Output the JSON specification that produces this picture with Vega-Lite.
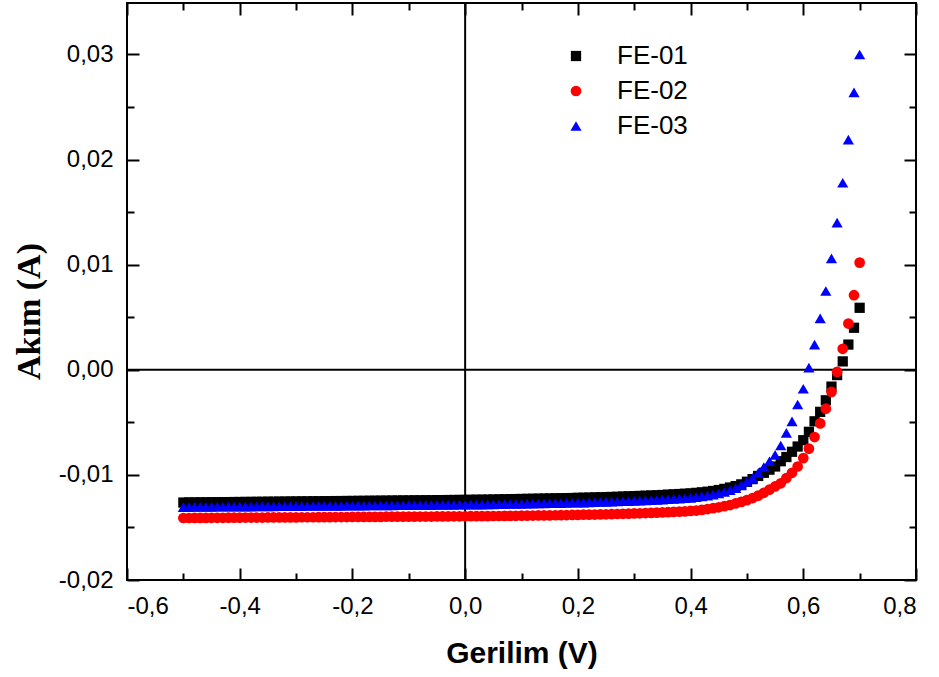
{
  "$schema": "https://vega.github.io/schema/vega-lite/v6.json",
  "width": 789,
  "height": 577,
  "autosize": {"type": "none"},
  "padding": {"left": 127, "top": 3, "right": 23, "bottom": 97},
  "config": {
    "locale": {"number": {"decimal": ",", "thousands": ".", "grouping": [3], "currency": ["", ""], "minus": "-"}},
    "view": {"stroke": "#000000", "strokeWidth": 2},
    "font": "Liberation Sans",
    "axis": {"grid": false, "domain": false, "labelColor": "#000000", "tickColor": "#000000", "titleColor": "#000000", "tickWidth": 2}
  },
  "resolve": {"axis": {"x": "independent", "y": "independent"}},
  "datasets": {
    "iv": [
      {"s":"FE-01","v":-0.50,"i":-0.01263},{"s":"FE-01","v":-0.49,"i":-0.01262},{"s":"FE-01","v":-0.48,"i":-0.01262},{"s":"FE-01","v":-0.47,"i":-0.01261},{"s":"FE-01","v":-0.46,"i":-0.01261},{"s":"FE-01","v":-0.45,"i":-0.01260},{"s":"FE-01","v":-0.44,"i":-0.01260},{"s":"FE-01","v":-0.43,"i":-0.01259},{"s":"FE-01","v":-0.42,"i":-0.01259},{"s":"FE-01","v":-0.41,"i":-0.01258},
      {"s":"FE-01","v":-0.40,"i":-0.01258},{"s":"FE-01","v":-0.39,"i":-0.01257},{"s":"FE-01","v":-0.38,"i":-0.01257},{"s":"FE-01","v":-0.37,"i":-0.01256},{"s":"FE-01","v":-0.36,"i":-0.01256},{"s":"FE-01","v":-0.35,"i":-0.01255},{"s":"FE-01","v":-0.34,"i":-0.01255},{"s":"FE-01","v":-0.33,"i":-0.01254},{"s":"FE-01","v":-0.32,"i":-0.01254},{"s":"FE-01","v":-0.31,"i":-0.01253},
      {"s":"FE-01","v":-0.30,"i":-0.01253},{"s":"FE-01","v":-0.29,"i":-0.01252},{"s":"FE-01","v":-0.28,"i":-0.01252},{"s":"FE-01","v":-0.27,"i":-0.01251},{"s":"FE-01","v":-0.26,"i":-0.01251},{"s":"FE-01","v":-0.25,"i":-0.01250},{"s":"FE-01","v":-0.24,"i":-0.01250},{"s":"FE-01","v":-0.23,"i":-0.01249},{"s":"FE-01","v":-0.22,"i":-0.01249},{"s":"FE-01","v":-0.21,"i":-0.01248},
      {"s":"FE-01","v":-0.20,"i":-0.01248},{"s":"FE-01","v":-0.19,"i":-0.01247},{"s":"FE-01","v":-0.18,"i":-0.01247},{"s":"FE-01","v":-0.17,"i":-0.01246},{"s":"FE-01","v":-0.16,"i":-0.01246},{"s":"FE-01","v":-0.15,"i":-0.01245},{"s":"FE-01","v":-0.14,"i":-0.01245},{"s":"FE-01","v":-0.13,"i":-0.01244},{"s":"FE-01","v":-0.12,"i":-0.01244},{"s":"FE-01","v":-0.11,"i":-0.01243},
      {"s":"FE-01","v":-0.10,"i":-0.01243},{"s":"FE-01","v":-0.09,"i":-0.01242},{"s":"FE-01","v":-0.08,"i":-0.01242},{"s":"FE-01","v":-0.07,"i":-0.01241},{"s":"FE-01","v":-0.06,"i":-0.01241},{"s":"FE-01","v":-0.05,"i":-0.01240},{"s":"FE-01","v":-0.04,"i":-0.01240},{"s":"FE-01","v":-0.03,"i":-0.01239},{"s":"FE-01","v":-0.02,"i":-0.01239},{"s":"FE-01","v":-0.01,"i":-0.01238},
      {"s":"FE-01","v":0.00,"i":-0.01238},{"s":"FE-01","v":0.01,"i":-0.01237},{"s":"FE-01","v":0.02,"i":-0.01236},{"s":"FE-01","v":0.03,"i":-0.01236},{"s":"FE-01","v":0.04,"i":-0.01235},{"s":"FE-01","v":0.05,"i":-0.01234},{"s":"FE-01","v":0.06,"i":-0.01233},{"s":"FE-01","v":0.07,"i":-0.01232},{"s":"FE-01","v":0.08,"i":-0.01231},{"s":"FE-01","v":0.09,"i":-0.01230},
      {"s":"FE-01","v":0.10,"i":-0.01229},{"s":"FE-01","v":0.11,"i":-0.01228},{"s":"FE-01","v":0.12,"i":-0.01227},{"s":"FE-01","v":0.13,"i":-0.01226},{"s":"FE-01","v":0.14,"i":-0.01225},{"s":"FE-01","v":0.15,"i":-0.01224},{"s":"FE-01","v":0.16,"i":-0.01223},{"s":"FE-01","v":0.17,"i":-0.01222},{"s":"FE-01","v":0.18,"i":-0.01221},{"s":"FE-01","v":0.19,"i":-0.01220},
      {"s":"FE-01","v":0.20,"i":-0.01218},{"s":"FE-01","v":0.21,"i":-0.01217},{"s":"FE-01","v":0.22,"i":-0.01216},{"s":"FE-01","v":0.23,"i":-0.01214},{"s":"FE-01","v":0.24,"i":-0.01213},{"s":"FE-01","v":0.25,"i":-0.01211},{"s":"FE-01","v":0.26,"i":-0.01210},{"s":"FE-01","v":0.27,"i":-0.01208},{"s":"FE-01","v":0.28,"i":-0.01206},{"s":"FE-01","v":0.29,"i":-0.01204},
      {"s":"FE-01","v":0.30,"i":-0.01202},{"s":"FE-01","v":0.31,"i":-0.01200},{"s":"FE-01","v":0.32,"i":-0.01198},{"s":"FE-01","v":0.33,"i":-0.01196},{"s":"FE-01","v":0.34,"i":-0.01194},{"s":"FE-01","v":0.35,"i":-0.01191},{"s":"FE-01","v":0.36,"i":-0.01188},{"s":"FE-01","v":0.37,"i":-0.01185},{"s":"FE-01","v":0.38,"i":-0.01182},{"s":"FE-01","v":0.39,"i":-0.01179},
      {"s":"FE-01","v":0.40,"i":-0.01176},{"s":"FE-01","v":0.41,"i":-0.01171},{"s":"FE-01","v":0.42,"i":-0.01166},{"s":"FE-01","v":0.43,"i":-0.01160},{"s":"FE-01","v":0.44,"i":-0.01153},{"s":"FE-01","v":0.45,"i":-0.01144},{"s":"FE-01","v":0.46,"i":-0.01133},{"s":"FE-01","v":0.47,"i":-0.01120},{"s":"FE-01","v":0.48,"i":-0.01107},{"s":"FE-01","v":0.49,"i":-0.01090},
      {"s":"FE-01","v":0.50,"i":-0.01065},{"s":"FE-01","v":0.51,"i":-0.01040},{"s":"FE-01","v":0.52,"i":-0.01010},{"s":"FE-01","v":0.53,"i":-0.00980},{"s":"FE-01","v":0.54,"i":-0.00950},{"s":"FE-01","v":0.55,"i":-0.00920},{"s":"FE-01","v":0.56,"i":-0.00870},{"s":"FE-01","v":0.57,"i":-0.00830},{"s":"FE-01","v":0.58,"i":-0.00780},{"s":"FE-01","v":0.59,"i":-0.00730},
      {"s":"FE-01","v":0.60,"i":-0.00670},{"s":"FE-01","v":0.61,"i":-0.00590},{"s":"FE-01","v":0.62,"i":-0.00490},{"s":"FE-01","v":0.63,"i":-0.00400},{"s":"FE-01","v":0.64,"i":-0.00290},{"s":"FE-01","v":0.65,"i":-0.00160},{"s":"FE-01","v":0.66,"i":-0.00050},{"s":"FE-01","v":0.67,"i":0.00080},{"s":"FE-01","v":0.68,"i":0.00240},{"s":"FE-01","v":0.69,"i":0.00400},
      {"s":"FE-01","v":0.70,"i":0.00590},

      {"s":"FE-02","v":-0.50,"i":-0.01410},{"s":"FE-02","v":-0.49,"i":-0.01410},{"s":"FE-02","v":-0.48,"i":-0.01409},{"s":"FE-02","v":-0.47,"i":-0.01409},{"s":"FE-02","v":-0.46,"i":-0.01409},{"s":"FE-02","v":-0.45,"i":-0.01408},{"s":"FE-02","v":-0.44,"i":-0.01408},{"s":"FE-02","v":-0.43,"i":-0.01408},{"s":"FE-02","v":-0.42,"i":-0.01407},{"s":"FE-02","v":-0.41,"i":-0.01407},
      {"s":"FE-02","v":-0.40,"i":-0.01407},{"s":"FE-02","v":-0.39,"i":-0.01406},{"s":"FE-02","v":-0.38,"i":-0.01406},{"s":"FE-02","v":-0.37,"i":-0.01406},{"s":"FE-02","v":-0.36,"i":-0.01406},{"s":"FE-02","v":-0.35,"i":-0.01405},{"s":"FE-02","v":-0.34,"i":-0.01405},{"s":"FE-02","v":-0.33,"i":-0.01405},{"s":"FE-02","v":-0.32,"i":-0.01404},{"s":"FE-02","v":-0.31,"i":-0.01404},
      {"s":"FE-02","v":-0.30,"i":-0.01404},{"s":"FE-02","v":-0.29,"i":-0.01403},{"s":"FE-02","v":-0.28,"i":-0.01403},{"s":"FE-02","v":-0.27,"i":-0.01403},{"s":"FE-02","v":-0.26,"i":-0.01402},{"s":"FE-02","v":-0.25,"i":-0.01402},{"s":"FE-02","v":-0.24,"i":-0.01402},{"s":"FE-02","v":-0.23,"i":-0.01401},{"s":"FE-02","v":-0.22,"i":-0.01401},{"s":"FE-02","v":-0.21,"i":-0.01401},
      {"s":"FE-02","v":-0.20,"i":-0.01400},{"s":"FE-02","v":-0.19,"i":-0.01400},{"s":"FE-02","v":-0.18,"i":-0.01400},{"s":"FE-02","v":-0.17,"i":-0.01399},{"s":"FE-02","v":-0.16,"i":-0.01399},{"s":"FE-02","v":-0.15,"i":-0.01399},{"s":"FE-02","v":-0.14,"i":-0.01398},{"s":"FE-02","v":-0.13,"i":-0.01398},{"s":"FE-02","v":-0.12,"i":-0.01398},{"s":"FE-02","v":-0.11,"i":-0.01397},
      {"s":"FE-02","v":-0.10,"i":-0.01397},{"s":"FE-02","v":-0.09,"i":-0.01397},{"s":"FE-02","v":-0.08,"i":-0.01396},{"s":"FE-02","v":-0.07,"i":-0.01396},{"s":"FE-02","v":-0.06,"i":-0.01396},{"s":"FE-02","v":-0.05,"i":-0.01395},{"s":"FE-02","v":-0.04,"i":-0.01395},{"s":"FE-02","v":-0.03,"i":-0.01395},{"s":"FE-02","v":-0.02,"i":-0.01394},{"s":"FE-02","v":-0.01,"i":-0.01394},
      {"s":"FE-02","v":0.00,"i":-0.01394},{"s":"FE-02","v":0.01,"i":-0.01393},{"s":"FE-02","v":0.02,"i":-0.01393},{"s":"FE-02","v":0.03,"i":-0.01392},{"s":"FE-02","v":0.04,"i":-0.01392},{"s":"FE-02","v":0.05,"i":-0.01391},{"s":"FE-02","v":0.06,"i":-0.01391},{"s":"FE-02","v":0.07,"i":-0.01390},{"s":"FE-02","v":0.08,"i":-0.01390},{"s":"FE-02","v":0.09,"i":-0.01389},
      {"s":"FE-02","v":0.10,"i":-0.01388},{"s":"FE-02","v":0.11,"i":-0.01388},{"s":"FE-02","v":0.12,"i":-0.01387},{"s":"FE-02","v":0.13,"i":-0.01386},{"s":"FE-02","v":0.14,"i":-0.01386},{"s":"FE-02","v":0.15,"i":-0.01385},{"s":"FE-02","v":0.16,"i":-0.01384},{"s":"FE-02","v":0.17,"i":-0.01383},{"s":"FE-02","v":0.18,"i":-0.01382},{"s":"FE-02","v":0.19,"i":-0.01381},
      {"s":"FE-02","v":0.20,"i":-0.01380},{"s":"FE-02","v":0.21,"i":-0.01379},{"s":"FE-02","v":0.22,"i":-0.01378},{"s":"FE-02","v":0.23,"i":-0.01377},{"s":"FE-02","v":0.24,"i":-0.01376},{"s":"FE-02","v":0.25,"i":-0.01375},{"s":"FE-02","v":0.26,"i":-0.01373},{"s":"FE-02","v":0.27,"i":-0.01372},{"s":"FE-02","v":0.28,"i":-0.01370},{"s":"FE-02","v":0.29,"i":-0.01369},
      {"s":"FE-02","v":0.30,"i":-0.01367},{"s":"FE-02","v":0.31,"i":-0.01365},{"s":"FE-02","v":0.32,"i":-0.01363},{"s":"FE-02","v":0.33,"i":-0.01361},{"s":"FE-02","v":0.34,"i":-0.01359},{"s":"FE-02","v":0.35,"i":-0.01357},{"s":"FE-02","v":0.36,"i":-0.01355},{"s":"FE-02","v":0.37,"i":-0.01352},{"s":"FE-02","v":0.38,"i":-0.01350},{"s":"FE-02","v":0.39,"i":-0.01347},
      {"s":"FE-02","v":0.40,"i":-0.01343},{"s":"FE-02","v":0.41,"i":-0.01339},{"s":"FE-02","v":0.42,"i":-0.01333},{"s":"FE-02","v":0.43,"i":-0.01325},{"s":"FE-02","v":0.44,"i":-0.01317},{"s":"FE-02","v":0.45,"i":-0.01308},{"s":"FE-02","v":0.46,"i":-0.01298},{"s":"FE-02","v":0.47,"i":-0.01287},{"s":"FE-02","v":0.48,"i":-0.01272},{"s":"FE-02","v":0.49,"i":-0.01257},
      {"s":"FE-02","v":0.50,"i":-0.01240},{"s":"FE-02","v":0.51,"i":-0.01220},{"s":"FE-02","v":0.52,"i":-0.01197},{"s":"FE-02","v":0.53,"i":-0.01170},{"s":"FE-02","v":0.54,"i":-0.01140},{"s":"FE-02","v":0.55,"i":-0.01110},{"s":"FE-02","v":0.56,"i":-0.01080},{"s":"FE-02","v":0.57,"i":-0.01030},{"s":"FE-02","v":0.58,"i":-0.00980},{"s":"FE-02","v":0.59,"i":-0.00920},
      {"s":"FE-02","v":0.60,"i":-0.00840},{"s":"FE-02","v":0.61,"i":-0.00750},{"s":"FE-02","v":0.62,"i":-0.00640},{"s":"FE-02","v":0.63,"i":-0.00510},{"s":"FE-02","v":0.64,"i":-0.00370},{"s":"FE-02","v":0.65,"i":-0.00210},{"s":"FE-02","v":0.66,"i":-0.00020},{"s":"FE-02","v":0.67,"i":0.00200},{"s":"FE-02","v":0.68,"i":0.00440},{"s":"FE-02","v":0.69,"i":0.00710},
      {"s":"FE-02","v":0.70,"i":0.01020},

      {"s":"FE-03","v":-0.50,"i":-0.01306},{"s":"FE-03","v":-0.49,"i":-0.01306},{"s":"FE-03","v":-0.48,"i":-0.01305},{"s":"FE-03","v":-0.47,"i":-0.01305},{"s":"FE-03","v":-0.46,"i":-0.01304},{"s":"FE-03","v":-0.45,"i":-0.01304},{"s":"FE-03","v":-0.44,"i":-0.01303},{"s":"FE-03","v":-0.43,"i":-0.01303},{"s":"FE-03","v":-0.42,"i":-0.01302},{"s":"FE-03","v":-0.41,"i":-0.01302},
      {"s":"FE-03","v":-0.40,"i":-0.01302},{"s":"FE-03","v":-0.39,"i":-0.01301},{"s":"FE-03","v":-0.38,"i":-0.01301},{"s":"FE-03","v":-0.37,"i":-0.01300},{"s":"FE-03","v":-0.36,"i":-0.01300},{"s":"FE-03","v":-0.35,"i":-0.01299},{"s":"FE-03","v":-0.34,"i":-0.01299},{"s":"FE-03","v":-0.33,"i":-0.01298},{"s":"FE-03","v":-0.32,"i":-0.01298},{"s":"FE-03","v":-0.31,"i":-0.01298},
      {"s":"FE-03","v":-0.30,"i":-0.01297},{"s":"FE-03","v":-0.29,"i":-0.01297},{"s":"FE-03","v":-0.28,"i":-0.01296},{"s":"FE-03","v":-0.27,"i":-0.01296},{"s":"FE-03","v":-0.26,"i":-0.01295},{"s":"FE-03","v":-0.25,"i":-0.01295},{"s":"FE-03","v":-0.24,"i":-0.01294},{"s":"FE-03","v":-0.23,"i":-0.01294},{"s":"FE-03","v":-0.22,"i":-0.01294},{"s":"FE-03","v":-0.21,"i":-0.01293},
      {"s":"FE-03","v":-0.20,"i":-0.01293},{"s":"FE-03","v":-0.19,"i":-0.01292},{"s":"FE-03","v":-0.18,"i":-0.01292},{"s":"FE-03","v":-0.17,"i":-0.01291},{"s":"FE-03","v":-0.16,"i":-0.01291},{"s":"FE-03","v":-0.15,"i":-0.01290},{"s":"FE-03","v":-0.14,"i":-0.01290},{"s":"FE-03","v":-0.13,"i":-0.01290},{"s":"FE-03","v":-0.12,"i":-0.01289},{"s":"FE-03","v":-0.11,"i":-0.01289},
      {"s":"FE-03","v":-0.10,"i":-0.01288},{"s":"FE-03","v":-0.09,"i":-0.01288},{"s":"FE-03","v":-0.08,"i":-0.01287},{"s":"FE-03","v":-0.07,"i":-0.01287},{"s":"FE-03","v":-0.06,"i":-0.01287},{"s":"FE-03","v":-0.05,"i":-0.01286},{"s":"FE-03","v":-0.04,"i":-0.01286},{"s":"FE-03","v":-0.03,"i":-0.01285},{"s":"FE-03","v":-0.02,"i":-0.01285},{"s":"FE-03","v":-0.01,"i":-0.01284},
      {"s":"FE-03","v":0.00,"i":-0.01284},{"s":"FE-03","v":0.01,"i":-0.01283},{"s":"FE-03","v":0.02,"i":-0.01282},{"s":"FE-03","v":0.03,"i":-0.01282},{"s":"FE-03","v":0.04,"i":-0.01281},{"s":"FE-03","v":0.05,"i":-0.01280},{"s":"FE-03","v":0.06,"i":-0.01279},{"s":"FE-03","v":0.07,"i":-0.01278},{"s":"FE-03","v":0.08,"i":-0.01277},{"s":"FE-03","v":0.09,"i":-0.01276},
      {"s":"FE-03","v":0.10,"i":-0.01275},{"s":"FE-03","v":0.11,"i":-0.01274},{"s":"FE-03","v":0.12,"i":-0.01273},{"s":"FE-03","v":0.13,"i":-0.01272},{"s":"FE-03","v":0.14,"i":-0.01271},{"s":"FE-03","v":0.15,"i":-0.01270},{"s":"FE-03","v":0.16,"i":-0.01269},{"s":"FE-03","v":0.17,"i":-0.01268},{"s":"FE-03","v":0.18,"i":-0.01267},{"s":"FE-03","v":0.19,"i":-0.01265},
      {"s":"FE-03","v":0.20,"i":-0.01264},{"s":"FE-03","v":0.21,"i":-0.01263},{"s":"FE-03","v":0.22,"i":-0.01261},{"s":"FE-03","v":0.23,"i":-0.01260},{"s":"FE-03","v":0.24,"i":-0.01258},{"s":"FE-03","v":0.25,"i":-0.01257},{"s":"FE-03","v":0.26,"i":-0.01255},{"s":"FE-03","v":0.27,"i":-0.01253},{"s":"FE-03","v":0.28,"i":-0.01251},{"s":"FE-03","v":0.29,"i":-0.01249},
      {"s":"FE-03","v":0.30,"i":-0.01247},{"s":"FE-03","v":0.31,"i":-0.01245},{"s":"FE-03","v":0.32,"i":-0.01243},{"s":"FE-03","v":0.33,"i":-0.01240},{"s":"FE-03","v":0.34,"i":-0.01238},{"s":"FE-03","v":0.35,"i":-0.01235},{"s":"FE-03","v":0.36,"i":-0.01232},{"s":"FE-03","v":0.37,"i":-0.01229},{"s":"FE-03","v":0.38,"i":-0.01226},{"s":"FE-03","v":0.39,"i":-0.01222},
      {"s":"FE-03","v":0.40,"i":-0.01218},{"s":"FE-03","v":0.41,"i":-0.01212},{"s":"FE-03","v":0.42,"i":-0.01205},{"s":"FE-03","v":0.43,"i":-0.01197},{"s":"FE-03","v":0.44,"i":-0.01188},{"s":"FE-03","v":0.45,"i":-0.01177},{"s":"FE-03","v":0.46,"i":-0.01163},{"s":"FE-03","v":0.47,"i":-0.01146},{"s":"FE-03","v":0.48,"i":-0.01125},{"s":"FE-03","v":0.49,"i":-0.01100},
      {"s":"FE-03","v":0.50,"i":-0.01065},{"s":"FE-03","v":0.51,"i":-0.01030},{"s":"FE-03","v":0.52,"i":-0.00980},{"s":"FE-03","v":0.53,"i":-0.00925},{"s":"FE-03","v":0.54,"i":-0.00870},{"s":"FE-03","v":0.55,"i":-0.00810},{"s":"FE-03","v":0.56,"i":-0.00720},{"s":"FE-03","v":0.57,"i":-0.00600},{"s":"FE-03","v":0.58,"i":-0.00490},{"s":"FE-03","v":0.59,"i":-0.00330},
      {"s":"FE-03","v":0.60,"i":-0.00180},{"s":"FE-03","v":0.61,"i":0.00020},{"s":"FE-03","v":0.62,"i":0.00240},{"s":"FE-03","v":0.63,"i":0.00490},{"s":"FE-03","v":0.64,"i":0.00750},{"s":"FE-03","v":0.65,"i":0.01060},{"s":"FE-03","v":0.66,"i":0.01400},{"s":"FE-03","v":0.67,"i":0.01780},{"s":"FE-03","v":0.68,"i":0.02190},{"s":"FE-03","v":0.69,"i":0.02640},
      {"s":"FE-03","v":0.70,"i":0.03000}
    ],
    "origin": [{"v": 0, "i": 0}]
  },
  "layer": [
    {
      "data": {"name": "origin"},
      "mark": {"type": "rule", "color": "#000000", "strokeWidth": 2},
      "encoding": {
        "x": {"field": "v", "type": "quantitative", "scale": {"domain": [-0.6, 0.8], "nice": false, "zero": false},
              "axis": {"orient": "top", "values": [-0.6, -0.4, -0.2, 0, 0.2, 0.4, 0.6, 0.8], "labels": false, "tickSize": -12, "title": null}}
      }
    },
    {
      "data": {"name": "origin"},
      "mark": {"type": "rule", "color": "#000000", "strokeWidth": 2},
      "encoding": {
        "y": {"field": "i", "type": "quantitative", "scale": {"domain": [-0.02, 0.0349], "nice": false, "zero": false},
              "axis": {"orient": "right", "values": [-0.02, -0.01, 0, 0.01, 0.02, 0.03], "labels": false, "tickSize": -12, "title": null}}
      }
    },
    {
      "data": {"name": "origin"},
      "mark": {"type": "point", "opacity": 0},
      "encoding": {
        "x": {"field": "v", "type": "quantitative", "axis": {"orient": "top", "values": [-0.5, -0.3, -0.1, 0.1, 0.3, 0.5, 0.7], "labels": false, "tickSize": -7, "title": null}},
        "y": {"field": "i", "type": "quantitative", "axis": {"orient": "right", "values": [-0.015, -0.005, 0.005, 0.015, 0.025], "labels": false, "tickSize": -7, "title": null}}
      }
    },
    {
      "data": {"name": "origin"},
      "mark": {"type": "point", "opacity": 0},
      "encoding": {
        "x": {"field": "v", "type": "quantitative", "axis": {"orient": "bottom", "values": [-0.5, -0.3, -0.1, 0.1, 0.3, 0.5, 0.7], "labels": false, "tickSize": -7, "title": null}},
        "y": {"field": "i", "type": "quantitative", "axis": {"orient": "left", "values": [-0.015, -0.005, 0.005, 0.015, 0.025], "labels": false, "tickSize": -7, "title": null}}
      }
    },
    {
      "data": {"name": "origin"},
      "mark": {"type": "point", "opacity": 0},
      "encoding": {
        "x": {"field": "v", "type": "quantitative", "axis": {"orient": "bottom", "values": [-0.6, -0.4, -0.2, 0, 0.2, 0.4, 0.6, 0.8], "labels": false, "tickSize": -12, "title": null}},
        "y": {"field": "i", "type": "quantitative", "axis": {"orient": "left", "values": [-0.02, -0.01, 0, 0.01, 0.02, 0.03], "labels": false, "tickSize": -12, "title": null}}
      }
    },
    {
      "data": {"name": "iv"},
      "mark": {"type": "point", "filled": true, "opacity": 1},
      "encoding": {
        "x": {"field": "v", "type": "quantitative",
              "axis": {"orient": "bottom", "values": [-0.6, -0.4, -0.2, 0, 0.2, 0.4, 0.6, 0.8], "format": ".1f", "ticks": false,
                       "labelFontSize": 24, "labelPadding": 14, "title": "Gerilim (V)", "titleFontSize": 30, "titleFontWeight": "bold", "titlePadding": 20}},
        "y": {"field": "i", "type": "quantitative",
              "axis": {"orient": "left", "values": [-0.02, -0.01, 0, 0.01, 0.02, 0.03], "format": ".2f", "ticks": false,
                       "labelFontSize": 24, "labelPadding": 14, "title": "Akım (A)", "titleFont": "Liberation Serif", "titleFontSize": 34, "titleFontWeight": "bold", "titlePadding": 12, "titleY": 308}},
        "color": {"field": "s", "type": "nominal", "title": null,
                  "scale": {"domain": ["FE-01", "FE-02", "FE-03"], "range": ["#000000", "#FF0000", "#0000FF"]},
                  "legend": {"orient": "none", "legendX": 436, "legendY": 40, "padding": 0, "labelFontSize": 26, "labelOffset": 28, "symbolSize": 165, "rowPadding": 9, "labelColor": "#000000", "symbolStrokeWidth": 0}},
        "shape": {"field": "s", "type": "nominal", "title": null,
                  "scale": {"domain": ["FE-01", "FE-02", "FE-03"], "range": ["square", "circle", "triangle-up"]}},
        "size": {"field": "s", "type": "ordinal", "legend": null,
                 "scale": {"domain": ["FE-01", "FE-02", "FE-03"], "range": [105, 125, 225]}}
      }
    }
  ]
}
